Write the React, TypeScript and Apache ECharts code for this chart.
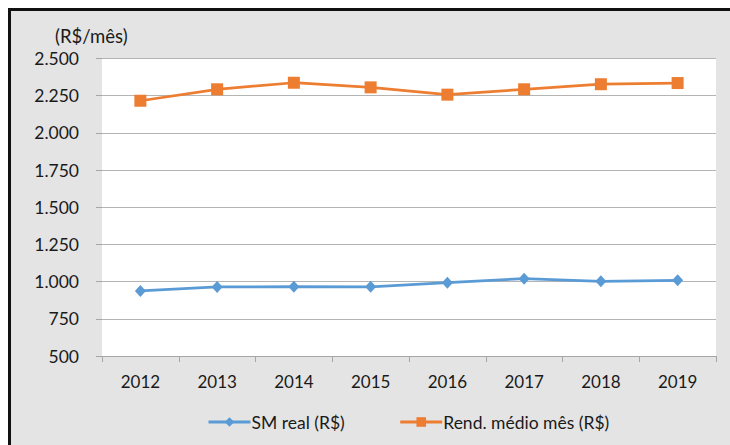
import React, { useEffect, useRef } from "react";
import * as echarts from "echarts";

const years = ["2012", "2013", "2014", "2015", "2016", "2017", "2018", "2019"];
const smReal = [937, 964, 966, 965, 993, 1020, 1002, 1009];
const rendMedio = [2216, 2293, 2337, 2306, 2257, 2293, 2327, 2335];
const seriesNames = ["SM real (R$)", "Rend. médio mês (R$)"];
const unitLabel = "(R$/mês)";

const FONT = "Lato";
const TXT = "#1a1a1a";

export default function App() {
  const ref = useRef<HTMLDivElement>(null);
  useEffect(() => {
    if (!ref.current) return;
    const chart = echarts.init(ref.current, undefined, { renderer: "svg" });
    chart.setOption({
      animation: false,
      backgroundColor: "#ffffff",
      textStyle: { fontFamily: FONT },
      graphic: [
        { type: "rect", z: -10, shape: { x: 8, y: 8, width: 722, height: 437 }, style: { fill: "#e4e4e4" } },
        { type: "rect", z: -9, shape: { x: 8, y: 8, width: 722, height: 3 }, style: { fill: "#111" } },
        { type: "rect", z: -9, shape: { x: 8, y: 8, width: 3, height: 437 }, style: { fill: "#111" } },
        {
          type: "text",
          x: 55,
          y: 36,
          style: { text: unitLabel, font: `18.5px ${FONT}`, fill: TXT, verticalAlign: "middle" },
        },
      ],
      grid: {
        left: 102,
        right: 14,
        top: 58.5,
        bottom: 89,
        show: true,
        backgroundColor: "#ffffff",
        borderWidth: 0,
      },
      legend: {
        left: 207,
        top: 413,
        padding: 0,
        itemWidth: 42,
        itemHeight: 12,
        itemGap: 54,
        lineStyle: { width: 3 },
        textStyle: { fontFamily: FONT, fontSize: 17.5, color: TXT, padding: [0, 0, 0, -4] },
        data: seriesNames,
      },
      xAxis: {
        type: "category",
        data: years,
        boundaryGap: true,
        axisLine: { show: true, lineStyle: { color: "#a6a6a6", width: 1 } },
        axisTick: { show: true, length: 6, alignWithLabel: false, lineStyle: { color: "#a6a6a6" } },
        axisLabel: { fontFamily: FONT, fontSize: 17, color: TXT, margin: 17 },
        splitLine: { show: false },
      },
      yAxis: {
        type: "value",
        min: 500,
        max: 2500,
        interval: 250,
        axisLine: { show: false },
        axisTick: { show: true, length: 6, lineStyle: { color: "#a6a6a6" } },
        axisLabel: {
          fontFamily: FONT,
          fontSize: 17.5,
          color: TXT,
          margin: 23,
          formatter: (v: number) => v.toString().replace(/\B(?=(\d{3})+(?!\d))/g, "."),
        },
        splitLine: { show: true, lineStyle: { color: "#b4b4b4", width: 1 } },
      },
      series: [
        {
          name: seriesNames[0],
          type: "line",
          data: smReal,
          symbol: "diamond",
          symbolSize: [11, 12],
          lineStyle: { color: "#5b9bd5", width: 2.75 },
          itemStyle: { color: "#5b9bd5" },
        },
        {
          name: seriesNames[1],
          type: "line",
          data: rendMedio,
          symbol: "rect",
          symbolSize: 12,
          lineStyle: { color: "#ed7d31", width: 2.75 },
          itemStyle: { color: "#ed7d31" },
        },
      ],
    });
    return () => chart.dispose();
  }, []);
  return <div ref={ref} style={{ position: "fixed", left: 0, top: 0, width: 730, height: 445 }} />;
}
